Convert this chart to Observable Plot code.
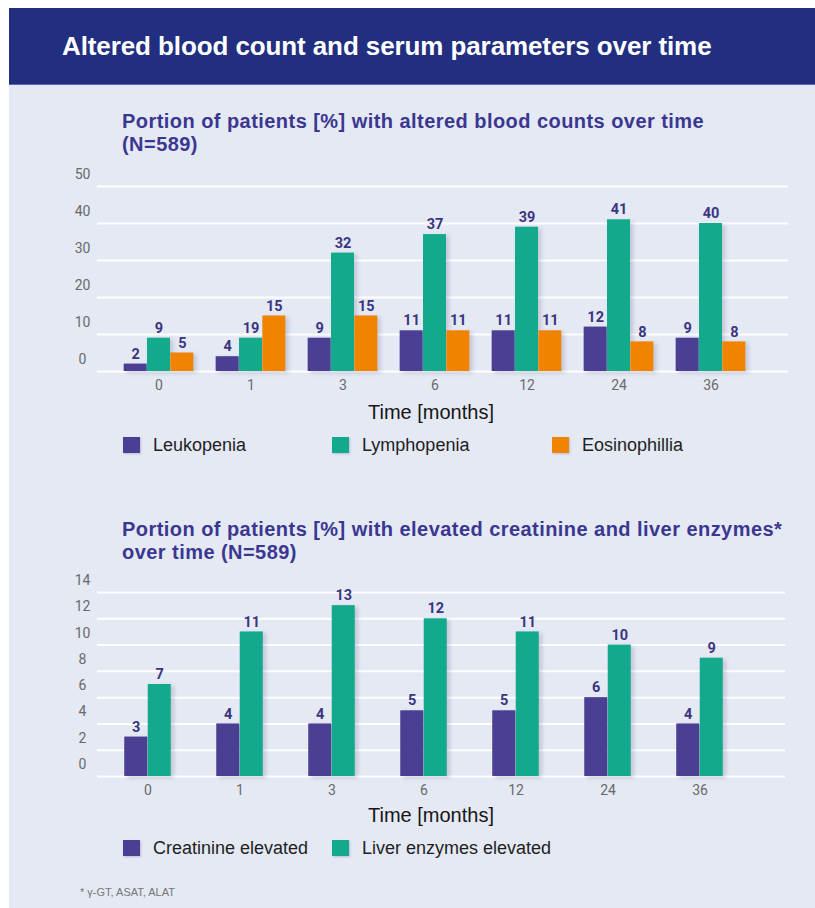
<!DOCTYPE html>
<html>
<head>
<meta charset="utf-8">
<script src="https://cdn.jsdelivr.net/npm/d3@7"></script>
<script src="https://cdn.jsdelivr.net/npm/@observablehq/plot@0.6"></script>
<style>
  body { margin: 0; background: #ffffff; }
  #page { position: relative; width: 815px; height: 908px; overflow: hidden; font-family: "Liberation Sans", Arial, sans-serif; }
  #panel { position: absolute; left: 9px; top: 85px; width: 806px; height: 823px; background: #e4e9f4; }
  #header { position: absolute; left: 9px; top: 8px; width: 806px; height: 77px; background: #222e80; border-bottom: 1px solid #5a6bb0; box-sizing: border-box; }
  #title { position: absolute; left: 62px; top: 33px; font-size: 26px; line-height: 26px; font-weight: 700; color: #ffffff; white-space: nowrap; letter-spacing: -0.1px; }
  .subtitle { position: absolute; left: 122px; font-size: 20px; line-height: 23px; font-weight: 700; color: #3b3790; white-space: nowrap; letter-spacing: 0.45px; }
  .chart { position: absolute; left: 0; }
  .axtitle { position: absolute; left: 368px; font-size: 20px; line-height: 20px; color: #161616; white-space: nowrap; }
  .legend { position: absolute; left: 0; height: 20px; width: 815px; }
  .item { position: absolute; top: 0; height: 20px; display: flex; align-items: center; font-size: 18px; color: #1e1e1e; white-space: nowrap; }
  .sw { width: 17px; height: 16px; margin-right: 13px; box-shadow: 1px 1px 2px rgba(60,60,100,0.25); }
  #foot { position: absolute; left: 80px; top: 886px; font-size: 11px; color: #777; white-space: nowrap; }
  .chart g[aria-label="bar"] { filter: drop-shadow(3px 2px 2px rgba(70,70,110,0.22)); }
</style>
</head>
<body>
<div id="page">
  <div id="panel"></div>
  <div id="header"></div>
  <div id="title">Altered blood count and serum parameters over time</div>

  <div class="subtitle" style="top:110px">Portion of patients [%] with altered blood counts over time<br>(N=589)</div>
  <div class="chart" id="chart1" style="top:160px"></div>
  <div class="axtitle" style="top:402px">Time [months]</div>
  <div class="legend" id="legend1" style="top:435px"></div>

  <div class="subtitle" style="top:518px">Portion of patients [%] with elevated creatinine and liver enzymes*<br>over time (N=589)</div>
  <div class="chart" id="chart2" style="top:560px"></div>
  <div class="axtitle" style="top:805px">Time [months]</div>
  <div class="legend" id="legend2" style="top:838px"></div>

  <div id="foot">* γ-GT, ASAT, ALAT</div>
</div>
<script>
// ---------- data ----------
const months = ["0", "1", "3", "6", "12", "24", "36"];

// Chart 1: altered blood counts (%)
const bloodSeries = ["Leukopenia", "Lymphopenia", "Eosinophillia"];
const leukopenia = [2, 4, 9, 11, 11, 12, 9];
const lymphopenia = [9, 9, 32, 37, 39, 41, 40];          // bar heights as drawn
const lymphopeniaLabels = [9, 19, 32, 37, 39, 41, 40];   // numbers as printed
const eosinophilia = [5, 15, 15, 11, 11, 8, 8];
const bloodTicks = [0, 10, 20, 30, 40, 50];

// Chart 2: elevated creatinine and liver enzymes (%)
const serumSeries = ["Creatinine elevated", "Liver enzymes elevated"];
const creatinine = [3, 4, 4, 5, 5, 6, 4];
const liverEnzymes = [7, 11, 13, 12, 11, 10, 9];
const serumTicks = [0, 2, 4, 6, 8, 10, 12, 14];

const colors = { purple: "#4a3f92", teal: "#12a98c", orange: "#f08400" };
const bloodColors = [colors.purple, colors.teal, colors.orange];
const serumColors = [colors.purple, colors.teal];

// ---------- helpers ----------
function groupedChart({values, labels, seriesColors, ticks, yMax, height, marginTop, marginBottom, marginRight, barW, center0}) {
  const n = values.length;
  const step = 92.33;
  const bw = barW;
  const pin = 1 - bw / step;
  const rows = [];
  values.forEach((vals, si) => {
    months.forEach((m, i) => rows.push({month: m, s: si, value: vals[i], label: labels[si][i]}));
  });
  const marks = [
    Plot.ruleY(ticks, {stroke: "#ffffff", strokeWidth: 2, strokeOpacity: 0.95}),
    Plot.axisY({ticks, tickSize: 0, tickPadding: 15, textAnchor: "middle", dy: -12, fontSize: 14, label: null, fontFamily: "Roboto, sans-serif"}),
    Plot.axisX({tickSize: 0, tickPadding: 9, fontSize: 14, label: null, fontFamily: "Roboto, sans-serif"})
  ];
  values.forEach((vals, si) => {
    const off = (si - (n - 1) / 2) * bw;
    const data = rows.filter(r => r.s === si);
    marks.push(Plot.barY(data, {x: "month", y: "value", fill: seriesColors[si], dx: off}));
  });
  values.forEach((vals, si) => {
    const off = (si - (n - 1) / 2) * bw;
    const data = rows.filter(r => r.s === si);
    marks.push(Plot.text(data, {x: "month", y: "value", text: d => String(d.label), dx: off, dy: -10,
      fill: "#3a3580", fontSize: 14.5, fontWeight: 700, fontFamily: "Roboto, sans-serif"}));
  });
  const a = center0 - step / 2;
  const b = a + step * months.length;
  return Plot.plot({
    width: 815,
    height,
    marginLeft: 97,
    marginRight,
    marginTop,
    marginBottom,
    style: {background: "transparent", color: "#6a6a6a", overflow: "visible"},
    x: {type: "band", domain: months, range: [a, b], paddingInner: pin, paddingOuter: pin / 2, align: 0.5},
    y: {domain: [0, yMax]},
    marks
  });
}

function legend(el, names, cols, lefts) {
  names.forEach((name, i) => {
    const it = document.createElement("div");
    it.className = "item";
    it.style.left = lefts[i] + "px";
    const sw = document.createElement("div");
    sw.className = "sw";
    sw.style.background = cols[i];
    const tx = document.createElement("span");
    tx.textContent = name;
    it.appendChild(sw);
    it.appendChild(tx);
    el.appendChild(it);
  });
}

document.getElementById("chart1").appendChild(groupedChart({
  values: [leukopenia, lymphopenia, eosinophilia],
  labels: [leukopenia, lymphopeniaLabels, eosinophilia],
  seriesColors: bloodColors,
  ticks: bloodTicks, yMax: 50, height: 240, marginTop: 26, marginBottom: 29, marginRight: 27, barW: 23.33, center0: 158
}));
document.getElementById("chart2").appendChild(groupedChart({
  values: [creatinine, liverEnzymes],
  labels: [creatinine, liverEnzymes],
  seriesColors: serumColors,
  ticks: serumTicks, yMax: 14, height: 245, marginTop: 32, marginBottom: 29, marginRight: 30, barW: 23.5, center0: 147
}));

legend(document.getElementById("legend1"), bloodSeries, bloodColors, [123, 332, 552]);
legend(document.getElementById("legend2"), serumSeries, serumColors, [123, 332]);
</script>
</body>
</html>
